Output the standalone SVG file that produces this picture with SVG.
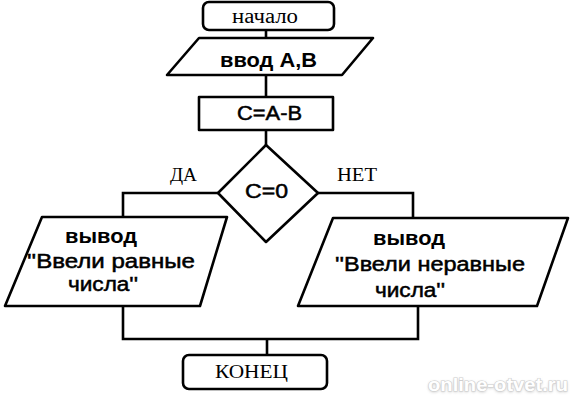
<svg xmlns="http://www.w3.org/2000/svg" width="574" height="400" viewBox="0 0 574 400">
<defs>
<style>
.shape{fill:#fff;stroke:#000;stroke-width:2.6;stroke-linejoin:round}
.conn{fill:none;stroke:#000;stroke-width:2.6;stroke-linejoin:miter}
.serif{font-family:"Liberation Serif","Times New Roman",serif;fill:#000}
.sans{font-family:"Liberation Sans",Arial,sans-serif;fill:#000}
.b{font-weight:bold}
.th{stroke:#000;stroke-width:0.5}
.wm{font-family:"Liberation Sans",Arial,sans-serif;font-weight:bold;fill:#fff;stroke:#cfcfcf;stroke-width:1.2;paint-order:stroke}
</style>
<filter id="blur" x="-10%" y="-50%" width="120%" height="200%"><feGaussianBlur stdDeviation="1.5"/></filter>
</defs>
<rect width="574" height="400" fill="#fff"/>
<g id="connectors">
<path class="conn" d="M266,30 V38"/>
<path class="conn" d="M266,75 V97"/>
<path class="conn" d="M266,130 V145"/>
<path class="conn" d="M218,193 H123 V217"/>
<path class="conn" d="M318,193 H413 V218"/>
<path class="conn" d="M123,306 V339 H418 V306"/>
<path class="conn" d="M267,339 V355"/>
</g>
<g id="start">
<rect class="shape" x="203" y="2" width="131" height="28" rx="6"/>
<text class="serif" x="232" y="23" font-size="20" textLength="66" lengthAdjust="spacingAndGlyphs">начало</text>
</g>
<g id="input">
<polygon class="shape" points="199,38 373,38 342,75 167,75"/>
<text class="sans b" x="220" y="67" font-size="20" textLength="97" lengthAdjust="spacingAndGlyphs">ввод А,В</text>
</g>
<g id="calc">
<rect class="shape" x="199" y="97" width="134" height="33"/>
<text class="sans th" x="237" y="120" font-size="20" textLength="65" lengthAdjust="spacingAndGlyphs">C=A-B</text>
</g>
<g id="decision">
<polygon class="shape" points="266,145 318,193 266,242 218,193"/>
<text class="sans th" x="245" y="198" font-size="20" textLength="43" lengthAdjust="spacingAndGlyphs">C=0</text>
</g>
<g id="labels">
<text class="serif" x="170" y="181" font-size="18" textLength="27" lengthAdjust="spacingAndGlyphs">ДА</text>
<text class="serif" x="337" y="181" font-size="18" textLength="40" lengthAdjust="spacingAndGlyphs">НЕТ</text>
</g>
<g id="out-equal">
<polygon class="shape" points="42,217 227,217 200,306 5,306"/>
<text class="sans b" x="65" y="243" font-size="20" textLength="72" lengthAdjust="spacingAndGlyphs">вывод</text>
<text class="sans th" x="27" y="268" font-size="20" textLength="168" lengthAdjust="spacingAndGlyphs">''Ввели равные</text>
<text class="sans th" x="68" y="291" font-size="20" textLength="70" lengthAdjust="spacingAndGlyphs">числа''</text>
</g>
<g id="out-unequal">
<polygon class="shape" points="333,218 568,218 537,306 298,306"/>
<text class="sans b" x="373" y="245" font-size="20" textLength="72" lengthAdjust="spacingAndGlyphs">вывод</text>
<text class="sans th" x="335" y="271" font-size="20" textLength="190" lengthAdjust="spacingAndGlyphs">''Ввели неравные</text>
<text class="sans th" x="375" y="297" font-size="20" textLength="70" lengthAdjust="spacingAndGlyphs">числа''</text>
</g>
<g id="end">
<rect class="shape" x="183" y="355" width="144" height="34" rx="6"/>
<text class="serif" x="215" y="378" font-size="19" textLength="73" lengthAdjust="spacingAndGlyphs">КОНЕЦ</text>
</g>
<g id="watermark">
<text x="428" y="392" font-size="19" textLength="140" lengthAdjust="spacingAndGlyphs" font-family="Liberation Sans, Arial, sans-serif" font-weight="bold" fill="#bdbdbd" filter="url(#blur)">online-otvet.ru</text>
<text class="wm" x="428" y="391" font-size="19" textLength="140" lengthAdjust="spacingAndGlyphs">online-otvet.ru</text>
</g>
</svg>
